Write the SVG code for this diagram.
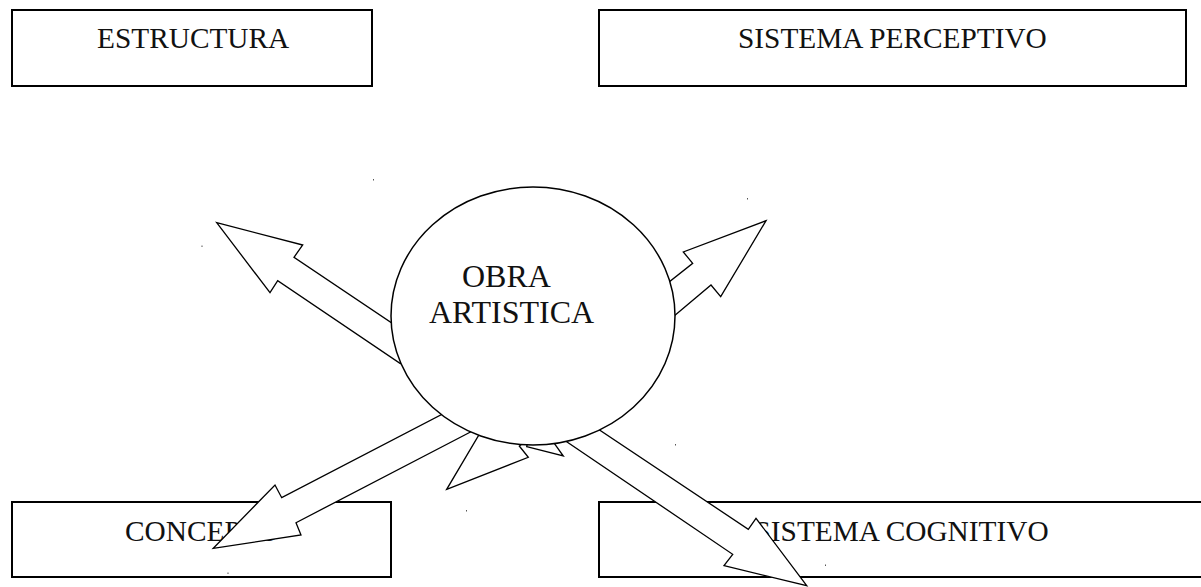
<svg xmlns="http://www.w3.org/2000/svg" width="1201" height="587" viewBox="0 0 1201 587">
<style>
.box{fill:#fff;stroke:#000;stroke-width:2}
.lbl{font-family:"Liberation Serif","Times New Roman",serif;font-size:29.33px;fill:#111}
.big{font-family:"Liberation Serif","Times New Roman",serif;font-size:32px;fill:#111}
.arr{fill:#fff;stroke:#000;stroke-width:1.3;stroke-linejoin:miter}
.ell{fill:#fff;stroke:#000;stroke-width:1.5}
.dot{fill:#555}
</style>
<rect width="1201" height="587" fill="#fff"/>
<g id="estructura">
<rect class="box" x="12" y="10" width="360" height="76"/>
<text class="lbl" x="97" y="48">ESTRUCTURA</text>
</g>
<g id="sistema-perceptivo">
<rect class="box" x="599" y="10" width="587" height="76"/>
<text class="lbl" x="738" y="48">SISTEMA PERCEPTIVO</text>
</g>
<g id="concepto">
<rect class="box" x="12" y="502" width="379" height="75"/>
<text class="lbl" x="125" y="541">CONCEPTO</text>
</g>
<g id="sistema-cognitivo">
<rect class="box" x="599" y="502" width="620" height="75"/>
<text class="lbl" x="754.5" y="541">SISTEMA COGNITIVO</text>
</g>
<g id="connectors">
<polygon class="arr" points="216.7,222.7 302.7,245 294,257.3 420,342 430,370 400,363.3 277.7,280.7 270,292.7"/>
<polygon class="arr" points="766,220.7 683.3,252 692.7,263.3 640,305 650,335 675,315.3 711,285 720.7,296.7"/>
<polygon class="arr" points="213.3,548.3 275,485 281.7,497.7 460,405 490,420 470,432.3 296,522.7 301,535"/>
<polygon class="arr" points="446.7,489.3 528.3,457.3 519.3,446 560,415 520,395 478.3,436"/>
<polygon class="arr" points="526.7,446.7 563.3,456 554.3,443.3 545,430 530,430"/>
<polygon class="arr" points="806.7,585.7 756,518.3 748.3,529.3 580,417 550,430 566.7,441.7 732.7,554.3 724,565.7"/>
</g>
<g id="obra-artistica">
<ellipse class="ell" cx="533" cy="316" rx="142" ry="129"/>
<text class="big" x="462" y="287">OBRA</text>
<text class="big" x="429" y="323">ARTISTICA</text>
</g>
<g id="marks">
<rect class="dot" x="373" y="179" width="1" height="1.5"/>
<rect class="dot" x="201.5" y="245.5" width="1" height="1.5"/>
<rect class="dot" x="747" y="198" width="1" height="1.5"/>
<rect class="dot" x="675" y="444" width="1" height="1.5"/>
<rect class="dot" x="466" y="510" width="1" height="1.5"/>
<rect class="dot" x="227.5" y="572.5" width="1" height="1.5"/>
<rect class="dot" x="825" y="564.5" width="1" height="1.5"/>
</g>
</svg>
